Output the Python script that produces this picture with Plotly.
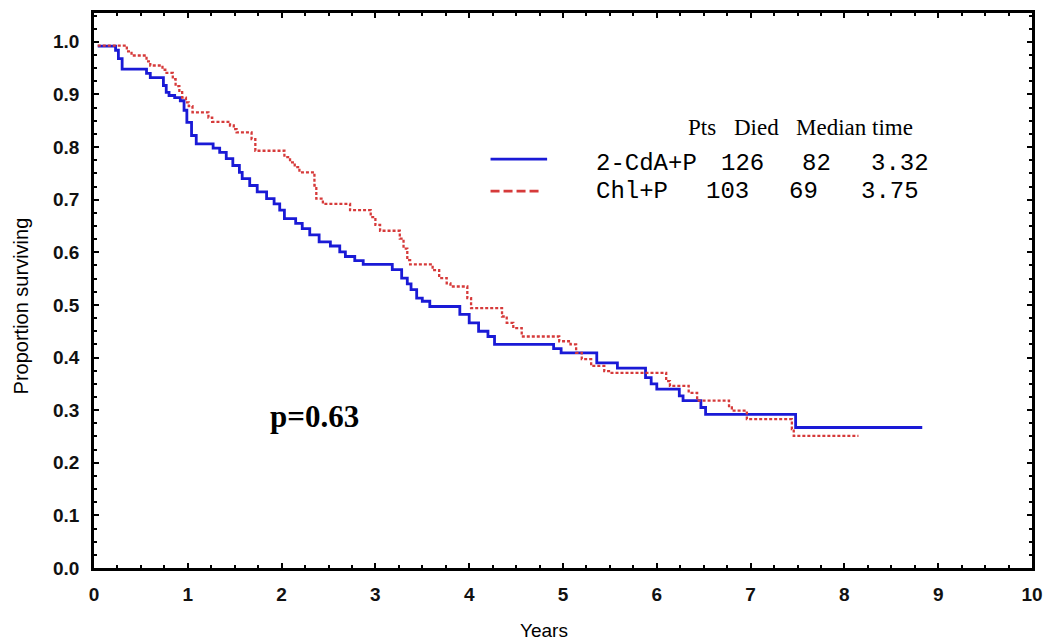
import plotly.graph_objects as go

# ---------------- data ----------------
cda_time = [0.04, 0.23, 0.26, 0.30, 0.56, 0.60, 0.74, 0.77, 0.80, 0.86, 0.92, 0.96, 0.99, 1.04, 1.09,
            1.27, 1.34, 1.41, 1.48, 1.55, 1.58, 1.66, 1.74, 1.84, 1.92, 1.98, 2.03, 2.15, 2.22, 2.30,
            2.40, 2.52, 2.62, 2.68, 2.78, 2.87, 3.18, 3.28, 3.34, 3.38, 3.44, 3.50, 3.58, 3.90, 4.00,
            4.10, 4.20, 4.27, 4.90, 4.98, 5.36, 5.58, 5.88, 5.94, 6.00, 6.24, 6.28, 6.47, 6.52, 7.48, 8.83]
cda_surv = [0.992, 0.984, 0.968, 0.948, 0.940, 0.932, 0.917, 0.904, 0.898, 0.894, 0.888, 0.870, 0.847, 0.822, 0.806,
            0.798, 0.790, 0.778, 0.765, 0.752, 0.740, 0.727, 0.715, 0.702, 0.692, 0.680, 0.664, 0.655, 0.645, 0.633,
            0.620, 0.612, 0.601, 0.592, 0.584, 0.577, 0.567, 0.551, 0.540, 0.529, 0.513, 0.507, 0.497, 0.482, 0.466,
            0.450, 0.440, 0.425, 0.417, 0.409, 0.390, 0.380, 0.362, 0.350, 0.340, 0.327, 0.318, 0.305, 0.292, 0.267, 0.267]

chl_time = [0.04, 0.35, 0.40, 0.56, 0.60, 0.73, 0.76, 0.84, 0.87, 0.91, 0.94, 0.98, 1.01, 1.05, 1.22, 1.26,
            1.45, 1.49, 1.52, 1.68, 1.72, 2.03, 2.09, 2.14, 2.19, 2.35, 2.37, 2.44, 2.73, 2.95, 3.00, 3.05,
            3.26, 3.30, 3.34, 3.37, 3.61, 3.68, 3.76, 3.80, 3.98, 4.02, 4.35, 4.40, 4.47, 4.56, 4.96, 5.08,
            5.14, 5.20, 5.30, 5.44, 5.49, 6.10, 6.14, 6.34, 6.43, 6.77, 6.80, 6.96, 7.44, 7.46, 8.15]
chl_surv = [0.993, 0.982, 0.974, 0.963, 0.955, 0.947, 0.941, 0.929, 0.916, 0.907, 0.894, 0.885, 0.878, 0.866, 0.856, 0.848,
            0.841, 0.834, 0.828, 0.815, 0.793, 0.781, 0.771, 0.762, 0.752, 0.727, 0.702, 0.692, 0.680, 0.667, 0.652, 0.641,
            0.626, 0.607, 0.585, 0.577, 0.566, 0.551, 0.541, 0.535, 0.513, 0.494, 0.478, 0.466, 0.456, 0.440, 0.431, 0.425,
            0.409, 0.397, 0.384, 0.374, 0.371, 0.355, 0.346, 0.333, 0.318, 0.305, 0.299, 0.283, 0.264, 0.251, 0.251]

groups = ["2-CdA+P", "Chl+P"]
pts = ["126", "103"]
died = ["82", "69"]
median = ["3.32", "3.75"]
header = ["Pts", "Died", "Median time"]
p_text = "p=0.63"

BLUE = "#1a1ad6"
RED = "#d63a3a"

# ---------------- layout geometry ----------------
W, H = 1053, 643
L, R, T, B = 93.5, 1038.5, 10, 568


def px(x):
    return (x - L) / (R - L)


def py(y):
    return (B - y) / (B - T)


fig = go.Figure()
fig.add_trace(go.Scatter(x=cda_time, y=cda_surv, mode="lines", line_shape="hv",
                         line=dict(color=BLUE, width=2.8), name=groups[0]))
fig.add_trace(go.Scatter(x=chl_time, y=chl_surv, mode="lines", line_shape="hv",
                         line=dict(color=RED, width=2.3, dash="3px,2px"), name=groups[1]))

axis_common = dict(showline=True, linecolor="black", linewidth=2.5, mirror="allticks",
                   ticks="inside", ticklen=5, tickwidth=2, tickcolor="black",
                   showgrid=False, zeroline=False,
                   tickfont=dict(family="Liberation Sans, Arial", size=19, color="#111111", weight="bold"))

fig.update_xaxes(range=[0, 10], dtick=1, tick0=0,
                 minor=dict(dtick=0.25, ticks="inside", ticklen=3, tickwidth=1.5, tickcolor="black"),
                 ticklabelstandoff=7, **axis_common)
fig.update_yaxes(range=[0, (B - T) / 52.9 / 10], dtick=0.1, tick0=0, tickformat=".1f",
                 minor=dict(dtick=0.025, ticks="inside", ticklen=3, tickwidth=1.5, tickcolor="black"),
                 ticklabelstandoff=8, **axis_common)

shapes = [
    dict(type="line", xref="paper", yref="paper", x0=px(493), x1=px(550), y0=py(157), y1=py(157),
         line=dict(color=BLUE, width=2.8)),
    dict(type="line", xref="paper", yref="paper", x0=px(493), x1=px(543), y0=py(189), y1=py(189),
         line=dict(color=RED, width=2.8, dash="9px,4px")),
]

serif = "Liberation Serif, Times New Roman"
mono = "Liberation Mono, Courier New"
sans = "Liberation Sans, Arial"
ann = []


def add_text(text, x, y, font, size, anchor="left", bold=False, angle=0):
    ann.append(dict(text=("<b>%s</b>" % text) if bold else text, x=px(x), y=py(y),
                    xref="paper", yref="paper", xanchor=anchor, yanchor="middle",
                    showarrow=False, textangle=angle,
                    font=dict(family=font, size=size, color="black")))


for t, x in zip(header, [690, 736, 799]):
    add_text(t, x, 125, serif, 23)
row_y = [161, 189]
for i in range(2):
    xs = [597, 723, 805, 874] if i == 0 else [597, 708, 792, 864]
    for t, x in zip([groups[i], pts[i], died[i], median[i]], xs):
        add_text(t, x, row_y[i], mono, 24)

add_text(p_text, 316, 416, serif, 31, anchor="center", bold=True)
add_text("Proportion surviving", 20, 305, sans, 20, anchor="center", angle=-90)
add_text("Years", 547, 631, sans, 19, anchor="center")

fig.update_layout(width=W, height=H, margin=dict(l=L, r=W - R, t=T, b=H - B),
                  paper_bgcolor="white", plot_bgcolor="white", showlegend=False,
                  shapes=shapes, annotations=ann)

fig.write_html("out.html")
